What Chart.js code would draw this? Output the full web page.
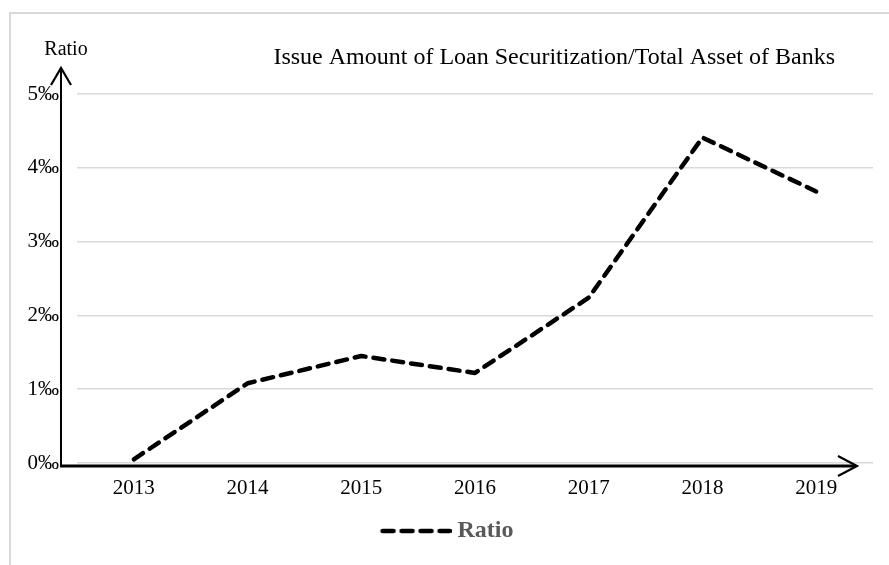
<!DOCTYPE html>
<html lang="en">

<head>
    <meta charset="UTF-8">
    <title>Issue Amount of Loan Securitization/Total Asset of Banks</title>
    <script src="https://cdn.jsdelivr.net/npm/chart.js"></script>
    <style>
        html, body { margin: 0; padding: 0; background: #fff; overflow: hidden; }
        .grafica { position: relative; width: 889px; height: 565px; }
    </style>
</head>

<body>

    <div class="grafica">
        <canvas id="myChart"></canvas>
    </div>

    <script>

        // data
        const years = ["2013", "2014", "2015", "2016", "2017", "2018", "2019"];
        const ratio = [0.05, 1.08, 1.45, 1.22, 2.24, 4.41, 3.68];
        const yTicks = [0, 1, 2, 3, 4, 5];
        const seriesName = "Ratio";
        const chartTitle = "Issue Amount of Loan Securitization/Total Asset of Banks";
        const yAxisName = "Ratio";

        const serif = "'Liberation Serif', 'Times New Roman', serif";
        Chart.defaults.font.family = serif;
        Chart.defaults.color = "#000";

        const lineWidth = 4.5;
        const lineDash = [11, 8];

        // dashed sample used as the legend symbol (wider than its box so the text sits closer)
        const legendSymbol = document.createElement("canvas");
        legendSymbol.width = 78;
        legendSymbol.height = 8;
        (function () {
            const c = legendSymbol.getContext("2d");
            c.strokeStyle = "#000";
            c.lineWidth = lineWidth;
            c.lineCap = "round";
            c.setLineDash(lineDash);
            c.beginPath();
            c.moveTo(9, 4);
            c.lineTo(76, 4);
            c.stroke();
        })();

        // frame, title, and the two arrowed axes
        const decorations = {
            id: "decorations",
            beforeDraw(chart) {
                const ctx = chart.ctx;
                ctx.save();
                ctx.fillStyle = "#fff";
                ctx.fillRect(0, 0, chart.width, chart.height);
                ctx.strokeStyle = "#d9d9d9";
                ctx.lineWidth = 2;
                ctx.strokeRect(10, 13, chart.width + 50, chart.height + 50);
                ctx.restore();
            },
            afterDraw(chart) {
                const ctx = chart.ctx;
                const area = chart.chartArea;
                const ax = area.left - 16;
                const ay = area.bottom + 3;
                const yTop = area.top - 26;
                const xEnd = area.right - 16;

                ctx.save();
                ctx.strokeStyle = "#000";
                ctx.lineCap = "butt";

                // y axis
                ctx.lineWidth = 2;
                ctx.beginPath();
                ctx.moveTo(ax, ay);
                ctx.lineTo(ax, yTop + 1);
                ctx.stroke();

                // x axis
                ctx.lineWidth = 3;
                ctx.beginPath();
                ctx.moveTo(ax - 1, ay);
                ctx.lineTo(xEnd - 1, ay);
                ctx.stroke();

                // arrow heads
                ctx.lineWidth = 2.2;
                ctx.lineJoin = "miter";
                ctx.beginPath();
                ctx.moveTo(ax - 10, yTop + 17);
                ctx.lineTo(ax, yTop);
                ctx.lineTo(ax + 10, yTop + 17);
                ctx.stroke();

                ctx.beginPath();
                ctx.moveTo(xEnd - 19, ay - 10);
                ctx.lineTo(xEnd, ay);
                ctx.lineTo(xEnd - 19, ay + 10);
                ctx.stroke();

                // texts
                ctx.fillStyle = "#000";
                ctx.textBaseline = "alphabetic";
                ctx.font = "20px " + serif;
                ctx.textAlign = "center";
                ctx.fillText(yAxisName, ax + 5, 55);

                ctx.font = "24px " + serif;
                ctx.textAlign = "right";
                ctx.fillText(chartTitle, area.right - 38, 64);
                ctx.restore();
            }
        };

        const config = {
            type: "line",
            data: {
                labels: years,
                datasets: [{
                    label: seriesName,
                    data: ratio,
                    borderColor: "#000",
                    backgroundColor: "#000",
                    borderWidth: lineWidth,
                    borderDash: lineDash,
                    borderCapStyle: "round",
                    borderJoinStyle: "round",
                    pointRadius: 0,
                    pointHoverRadius: 0,
                    pointStyle: legendSymbol,
                    fill: false,
                    tension: 0
                }]
            },
            options: {
                responsive: true,
                maintainAspectRatio: false,
                animation: false,
                events: [],
                layout: {
                    padding: { left: 20, right: 16, top: 94, bottom: 12 }
                },
                plugins: {
                    legend: {
                        position: "bottom",
                        labels: {
                            usePointStyle: true,
                            pointStyleWidth: 66,
                            padding: 8,
                            color: "#595959",
                            font: { size: 24, weight: "bold" }
                        }
                    },
                    title: { display: false },
                    tooltip: { enabled: false }
                },
                scales: {
                    x: {
                        offset: true,
                        grid: { display: false, drawTicks: false },
                        border: { display: false },
                        ticks: { padding: 13, font: { size: 21 }, color: "#000" },
                        afterFit(scale) { scale.height = 48; }
                    },
                    y: {
                        min: yTicks[0],
                        max: yTicks[yTicks.length - 1],
                        grid: { color: "#d9d9d9", lineWidth: 1.5, drawTicks: false },
                        border: { display: false },
                        afterBuildTicks(scale) {
                            scale.ticks = yTicks.map(v => ({ value: v }));
                        },
                        ticks: {
                            padding: 18,
                            font: { size: 21 },
                            color: "#000",
                            callback: v => v + "‰"
                        },
                        afterFit(scale) { scale.width = 57; }
                    }
                }
            },
            plugins: [decorations]
        };

        const ctx = document.getElementById("myChart").getContext("2d");
        const grafico = new Chart(ctx, config);

    </script>
</body>

</html>
